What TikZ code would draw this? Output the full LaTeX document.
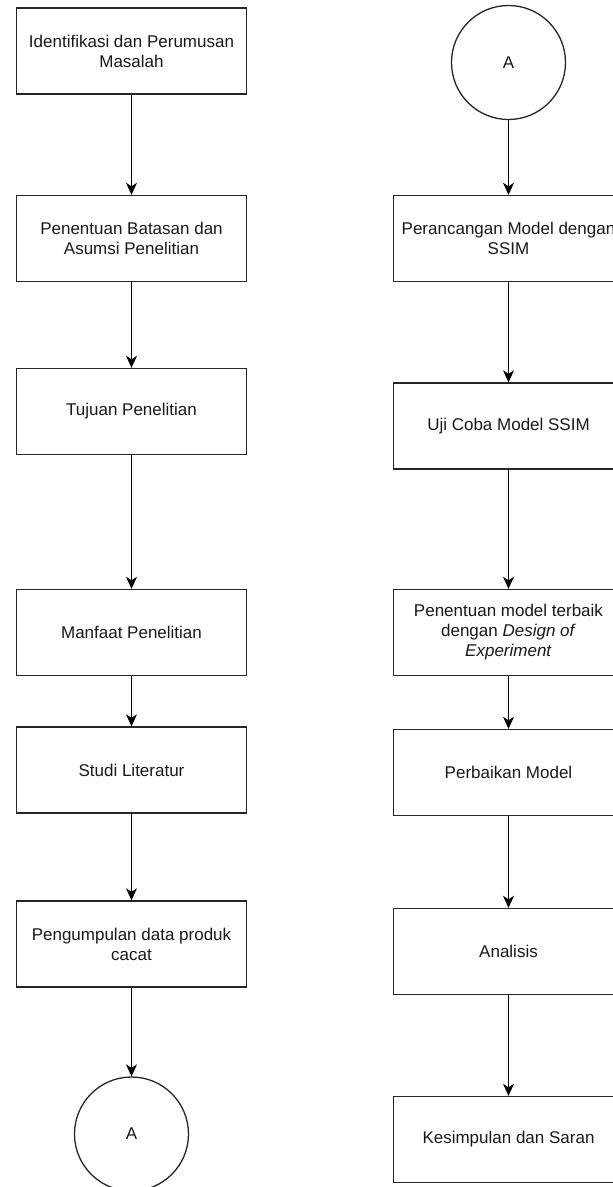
\documentclass[tikz,border=0pt]{standalone}
\usepackage{fontspec}
\setmainfont{Liberation Sans}
\usetikzlibrary{arrows.meta,shapes.geometric}
\begin{document}
\begin{tikzpicture}[x=1pt,y=-1pt,
  stepbox/.style={draw=black!85,line width=1.4pt,minimum width=230pt,minimum height=86pt,align=center,inner sep=2pt,
    font=\fontsize{17pt}{20pt}\selectfont,text=black!90},
  conn/.style={draw=black!85,line width=1.3pt,minimum size=114pt,circle,inner sep=0pt,
    font=\fontsize{17pt}{20pt}\selectfont,text=black!90},
  arr/.style={line width=1.1pt,black,-{Stealth[length=12pt,width=11pt,inset=3.5pt]}}]
\clip (0,0) rectangle (613,1187);
\fill[white] (0,0) rectangle (613,1187);
% left column
\node[stepbox] (l1) at (131.5,51) {Identifikasi dan Perumusan\\Masalah};
\node[stepbox] (l2) at (131.5,238.5) {Penentuan Batasan dan\\Asumsi Penelitian};
\node[stepbox] (l3) at (131.5,411.5) {Tujuan Penelitian};
\node[stepbox] (l4) at (131.5,632.5) {Manfaat Penelitian};
\node[stepbox] (l5) at (131.5,770) {Studi Literatur};
\node[stepbox] (l6) at (131.5,944) {Pengumpulan data produk\\cacat};
\node[conn] (la) at (131.5,1134) {A};
% right column
\node[conn] (ra) at (508.5,62.5) {A};
\node[stepbox] (r1) at (508.5,238.5) {Perancangan Model dengan\\SSIM};
\node[stepbox] (r2) at (508.5,426) {Uji Coba Model SSIM};
\node[stepbox] (r3) at (508.5,632.5) {Penentuan model terbaik\\dengan \textit{Design of}\\\textit{Experiment}};
\node[stepbox] (r4) at (508.5,772.5) {Perbaikan Model};
\node[stepbox] (r5) at (508.5,951.5) {Analisis};
\node[stepbox] (r6) at (508.5,1139.5) {Kesimpulan dan Saran};
% connectors
\draw[arr] (l1) -- (l2);
\draw[arr] (l2) -- (l3);
\draw[arr] (l3) -- (l4);
\draw[arr] (l4) -- (l5);
\draw[arr] (l5) -- (l6);
\draw[arr] (l6) -- (la);
\draw[arr] (ra) -- (r1);
\draw[arr] (r1) -- (r2);
\draw[arr] (r2) -- (r3);
\draw[arr] (r3) -- (r4);
\draw[arr] (r4) -- (r5);
\draw[arr] (r5) -- (r6);
\end{tikzpicture}
\end{document}
